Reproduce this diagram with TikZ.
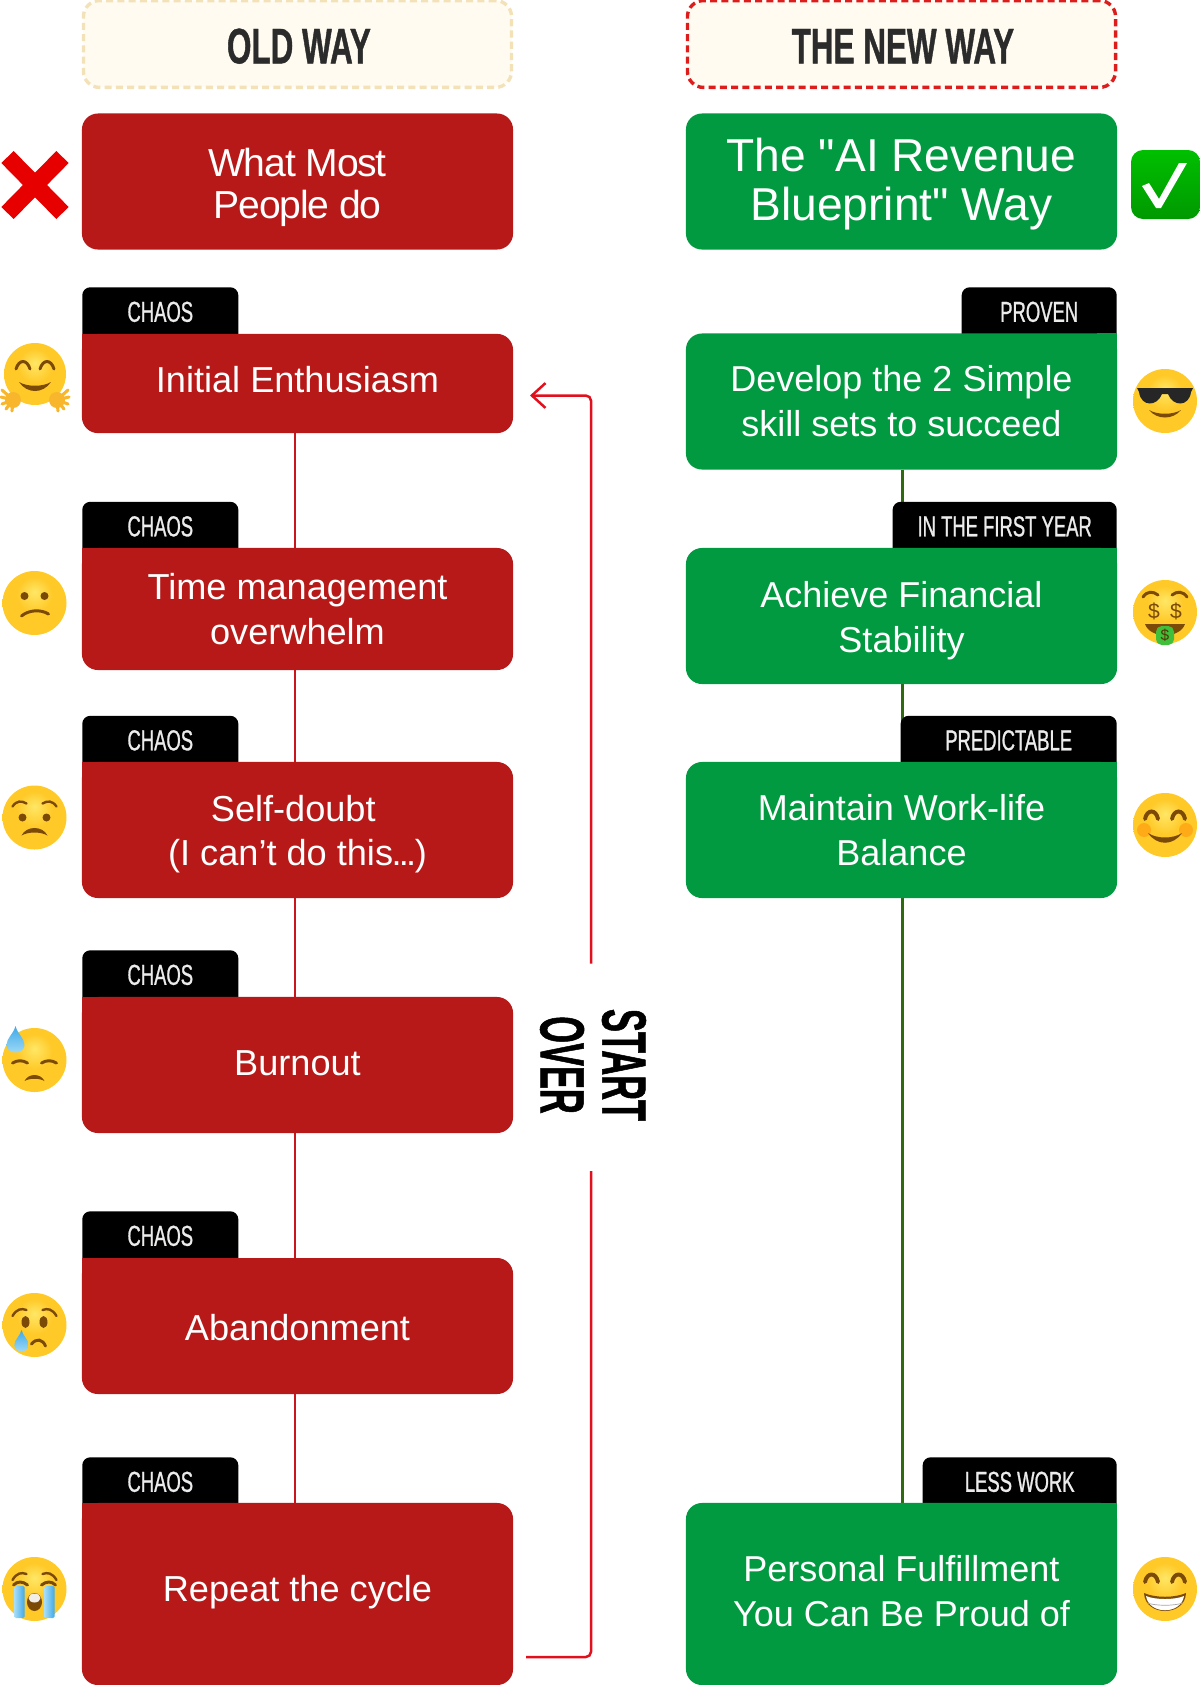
\documentclass[tikz,border=0pt]{standalone}
\usepackage{xcolor}
\usepackage{fontspec}
\setmainfont{Liberation Sans}
\newfontfamily\quotefont{Liberation Sans}
\newfontfamily\tightfont[LetterSpace=-3]{Liberation Sans}
\newfontfamily\tagfont[FakeStretch=0.64, FakeBold=0.9]{Liberation Sans}
\newfontfamily\headfont[FakeStretch=0.63, FakeBold=0.8]{Liberation Sans Bold}
\newfontfamily\overfont[FakeStretch=0.55, FakeBold=0.8]{Liberation Sans Bold}
\usetikzlibrary{arrows.meta, backgrounds}
\definecolor{oldred}{HTML}{B71918}
\definecolor{newgreen}{HTML}{029A40}
\definecolor{oldline}{HTML}{C9161D}
\definecolor{newline}{HTML}{2F6A12}
\definecolor{loopred}{HTML}{E2101D}
\definecolor{paper}{HTML}{FFFBF0}
\definecolor{palehem}{HTML}{F3E2B8}
\definecolor{redhem}{HTML}{DD1C1C}
\definecolor{headink}{HTML}{2B2B2B}
\definecolor{crossred}{HTML}{E60000}
\definecolor{faceglow}{HTML}{FFE766}
\definecolor{facemid}{HTML}{FFC928}
\definecolor{faceedge}{HTML}{F09A1E}
\definecolor{facebrown}{HTML}{7A4A06}
\definecolor{handorange}{HTML}{F8B62C}
\definecolor{tearblue}{HTML}{3FA9E8}
\definecolor{tearlight}{HTML}{A5DCF7}
\definecolor{billgreen}{HTML}{3FBF3A}
\pgfdeclareradialshading{emojiface}{\pgfpoint{0bp}{9bp}}{color(0bp)=(faceglow); color(14bp)=(facemid); color(30bp)=(facemid); color(37bp)=(faceedge); color(50bp)=(faceedge)}
\tikzset{
  faceline/.style={draw=facebrown, line width=2.1pt, line cap=round},
  mouthfill/.style={fill=facebrown},
  smiley/.pic={\path[shading=emojiface] (0,0) circle (32);},
  arceyes/.pic={\foreach \s in {-1,1} \draw[faceline, line width=2.8pt] (\s*20,-3) .. controls (\s*18,-13) and (\s*9,-13) .. (\s*7,-3);},
  browarcs/.pic={\foreach \s in {-1,1} \draw[faceline, line width=1.7pt] (\s*22,-9) .. controls (\s*18,-16) and (\s*13,-17) .. (\s*8,-15);},
  tear/.pic={\shade[top color=tearblue, bottom color=tearlight] (0,-15) .. controls (2,-7) and (9,-3) .. (9,4) .. controls (9,14) and (-9,14) .. (-9,4) .. controls (-9,-3) and (-2,-7) .. cycle;},
  hugface/.pic={
    \path[shading=emojiface] (0,-5) circle (31);
    \foreach \s in {-1,1} {
      \draw[faceline] (\s*19,-10) .. controls (\s*16,-20) and (\s*8,-20) .. (\s*5,-10);
      \foreach \fx/\fy in {33/11, 34/18, 33/25, 29/30, 23/32} \draw[handorange, line width=2.2pt, line cap=round] (\s*22,21) -- (\s*\fx,\fy);
      \fill[handorange] (\s*22,21) circle (8);
    }
    \fill[mouthfill] (-16,3) .. controls (-8,15) and (8,15) .. (16,3) .. controls (8,8) and (-8,8) .. cycle;
  },
  confusedface/.pic={
    \pic {smiley};
    \foreach \s in {-1,1} \fill[facebrown] (\s*10,-7) circle (4);
    \draw[faceline] (-13,13) .. controls (-6,7) and (6,6) .. (14,11);
  },
  worriedface/.pic={
    \pic {smiley};
    \foreach \s in {-1,1} {
      \draw[faceline, line width=1.7pt] (\s*22,-11) .. controls (\s*18,-17) and (\s*13,-17) .. (\s*8,-14);
      \fill[facebrown] (\s*12,0) circle (4);
    }
    \fill[mouthfill] (-13,18) .. controls (-8,8) and (8,8) .. (13,18) .. controls (6,14) and (-6,14) .. cycle;
  },
  sweatface/.pic={
    \pic {smiley};
    \foreach \s in {-1,1} \draw[faceline] (\s*22,3) .. controls (\s*17,0) and (\s*12,0) .. (\s*7,3);
    \fill[mouthfill] (-10,21) .. controls (-6,13) and (6,13) .. (10,21) .. controls (5,18) and (-5,18) .. cycle;
    \pic at (-19,-19) {tear};
  },
  cryface/.pic={
    \pic {smiley};
    \pic {browarcs};
    \foreach \s in {-1,1} \fill[facebrown] (\s*9,-3) ellipse (4 and 6);
    \draw[faceline] (-3,19) .. controls (2,13) and (8,14) .. (11,21);
    \pic[scale=.8] at (-13,17) {tear};
  },
  sobface/.pic={
    \pic {smiley};
    \pic {browarcs};
    \foreach \s in {-1,1} {
      \draw[faceline] (\s*21,-4) .. controls (\s*17,-8) and (\s*12,-8) .. (\s*7,-4);
      \shade[left color=tearlight, right color=tearblue, rounded corners=1pt] (\s*10,-3) rectangle (\s*20,29);
    }
    \fill[facebrown] (0,13) ellipse (7.5 and 9);
    \fill[white!90!facebrown] (0,9) ellipse (6 and 4.5);
  },
  coolface/.pic={
    \pic {smiley};
    \fill[black!85] (-28,-13) -- (28,-13) -- (26,-9) .. controls (24,6) and (8,6) .. (3,-7) -- (-3,-7) .. controls (-8,6) and (-24,6) .. (-26,-9) -- cycle;
    \fill[mouthfill] (-16,9) .. controls (-8,19) and (8,19) .. (16,9) .. controls (8,14) and (-8,14) .. cycle;
  },
  moneyface/.pic={
    \pic {smiley};
    \foreach \s in {-1,1} {
      \draw[faceline] (\s*22,-15) .. controls (\s*18,-21) and (\s*12,-21) .. (\s*7,-17);
      \node[facebrown, font=\fontsize{15}{15}\selectfont] at (\s*11,-1) {\$};
    }
    \fill[mouthfill] (-20,12) -- (20,12) .. controls (15,27) and (-15,27) .. (-20,12) -- cycle;
    \fill[billgreen, rounded corners=4pt] (-9,14) rectangle (9,33);
    \node[facebrown!70!black, font=\fontsize{11}{11}\selectfont] at (0,23) {\$};
  },
  happyface/.pic={
    \pic {smiley};
    \foreach \s in {-1,1} \fill[orange!75!facemid, opacity=.55] (\s*21,5) circle (7);
    \pic at (0,-3) {arceyes};
    \fill[mouthfill] (-17,8) .. controls (-8,21) and (8,21) .. (17,8) .. controls (8,14) and (-8,14) .. cycle;
  },
  grinface/.pic={
    \pic {smiley};
    \pic at (0,-4) {arceyes};
    \fill[mouthfill] (-21,4) .. controls (-10,9) and (10,9) .. (21,4) .. controls (20,28) and (-20,28) .. cycle;
    \fill[white] (-19,7) .. controls (-10,11) and (10,11) .. (19,7) .. controls (16,26) and (-16,26) .. cycle;
    \draw[black!35, line width=0.5pt] (-18,14) .. controls (-8,17) and (8,17) .. (18,14);
  },
}
\begin{document}
\begin{tikzpicture}[
  x=0.025cm, y=-0.025cm,
  hem/.style={fill=paper, rounded corners=0.4cm, minimum width=10.7cm, minimum height=2.17cm, inner sep=0pt, line width=2.4pt, dash pattern=on 5pt off 3pt, text=headink, text height=27.5pt, text depth=0pt, font=\headfont\fontsize{35.5}{35.5}\selectfont},
  stepbox/.style={rounded corners=0.4cm, minimum width=10.775cm, inner sep=0pt, text=white, align=center},
  oldbox/.style={stepbox, fill=oldred, font=\fontsize{25.7}{32}\selectfont},
  newbox/.style={stepbox, fill=newgreen, font=\fontsize{25.6}{32}\selectfont},
  tagbox/.style={fill=black, rounded corners=0.2cm, inner sep=0pt, text=white!92!black, text height=0.8625cm, text depth=0.8125cm, font=\tagfont\fontsize{20.5}{20.5}\selectfont},
  oldtag/.style={tagbox, anchor=north west, minimum width=3.9cm},
  newtag/.style={tagbox, anchor=north east},
  oldflow/.style={oldline, line width=0.07cm},
  newflow/.style={newline, line width=0.07cm},
  loopflow/.style={loopred, line width=0.0625cm, rounded corners=0.13cm},
]
  \path[use as bounding box] (0,0) rectangle (1200,1685);

  \node[hem, draw=palehem] (oldhead) at (297.5,44) {\hspace*{2pt}OLD WAY};
  \node[hem, draw=redhem] (newhead) at (901.5,44) {\hspace*{2pt}THE NEW WAY};

  % tags go first, the boxes lie on their lower part
  \node[oldtag] (tagone) at (82,287) {CHAOS};
  \node[oldtag] (tagtwo) at (82,501.5) {CHAOS};
  \node[oldtag] (tagthree) at (82,715.5) {CHAOS};
  \node[oldtag] (tagfour) at (82,950) {CHAOS};
  \node[oldtag] (tagfive) at (82,1211) {CHAOS};
  \node[oldtag] (tagsix) at (82,1457) {CHAOS};
  \node[newtag, minimum width=3.875cm] (tagproven) at (1117,287) {PROVEN};
  \node[newtag, minimum width=5.6cm] (tagyear) at (1117,501.5) {IN THE FIRST YEAR};
  \node[newtag, minimum width=5.4cm] (tagpredict) at (1117,715.5) {PREDICTABLE};
  \node[newtag, minimum width=4.85cm] (tagless) at (1117,1457) {LESS WORK};

  \node[oldbox, minimum height=3.4cm, text height=58pt, font=\tightfont\fontsize{27.8}{30}\selectfont] (most) at (297.5,181.5) {What Most\\People do};
  \node[oldbox, minimum height=2.48cm, text depth=0.22cm] (initial) at (297.5,383.5) {Initial Enthusiasm};
  \node[oldbox, minimum height=3.05cm] (overwhelm) at (297.5,609) {Time management\\overwhelm};
  \node[oldbox, minimum height=3.4cm, text height=56.5pt] (doubt) at (297.5,830) {Self-doubt\hspace*{6pt}\\(I can’t do this\kern-1pt.\kern-2pt.\kern-2pt.\kern-1pt)};
  \node[oldbox, minimum height=3.4cm, text depth=3pt] (burnout) at (297.5,1065) {Burnout};
  \node[oldbox, minimum height=3.4cm, text height=21.5pt] (abandon) at (297.5,1326) {Abandonment};
  \node[oldbox, minimum height=4.55cm, text depth=8.5pt] (again) at (297.5,1594) {Repeat the cycle};

  \node[newbox, minimum height=3.4cm, text height=62pt, font=\quotefont\fontsize{32.8}{35}\selectfont] (blueprint) at (901.5,181.5) {The "AI Revenue\\Blueprint" Way};
  \node[newbox, minimum height=3.4cm] (skills) at (901.5,401.5) {Develop the 2 Simple\\skill sets to succeed};
  \node[newbox, minimum height=3.4cm, text height=56.6pt] (stability) at (901.5,616) {Achieve Financial\\Stability};
  \node[newbox, minimum height=3.4cm] (balance) at (901.5,830) {Maintain Work-life\\Balance};
  \node[newbox, minimum height=4.55cm, text depth=3.7pt] (fulfil) at (901.5,1594) {Personal Fulfillment\\You Can Be Proud of};

  % square corner where a box meets its tag
  \foreach \b in {initial, overwhelm, doubt, burnout, abandon, again}
    \fill[oldred] (\b.north west) rectangle ++(20,20);
  \foreach \b in {skills, stability, balance, fulfil}
    \fill[newgreen] (\b.north east) rectangle ++(-20,20);

  \begin{scope}[on background layer]
    \foreach \a/\b in {initial/overwhelm, overwhelm/doubt, doubt/burnout, burnout/abandon, abandon/again}
      \draw[oldflow] ([xshift=-0.0625cm]\a.south) -- ([xshift=-0.0625cm]\b.north);
    \foreach \a/\b in {skills/stability, stability/balance, balance/fulfil}
      \draw[newflow] ([xshift=0.025cm]\a.south) -- ([xshift=0.025cm]\b.north);
  \end{scope}

  \node[rotate=-90, align=center, inner sep=0pt, font=\overfont\fontsize{44.5}{44}\selectfont] (startover) at (593,1065) {START\\OVER};

  \coordinate (loopin) at (526,1657);
  \coordinate (looplow) at (591,1171);
  \coordinate (loophigh) at (591,963.5);
  \coordinate (loopout) at (530,395.5);
  \draw[loopflow] (loopin) -| (looplow);
  \draw[loopflow, -{Straight Barb[length=0.34cm, width=0.62cm]}] (loophigh) |- (loopout);

  % the marks beside the boxes
  \draw[crossred, line width=0.43cm] (7.5,157) -- (62.5,213);
  \draw[crossred, line width=0.43cm] (62.5,157) -- (7.5,213);
  \shade[top color=green!75!black, bottom color=green!60!black, rounded corners=0.3cm] (1131,150) rectangle (1200,219);
  \fill[white] (1142,186) -- (1149,183) -- (1159,199) -- (1179,163) -- (1187,163) -- (1161,208) -- (1156,208) -- cycle;
  \pic (hug) at (35,379) {hugface};
  \pic (confused) at (34.5,603) {confusedface};
  \pic (worried) at (34.5,817.5) {worriedface};
  \pic (sweat) at (34.5,1060) {sweatface};
  \pic (cry) at (34.5,1325) {cryface};
  \pic (sob) at (34.5,1589) {sobface};
  \pic (cool) at (1165,401) {coolface};
  \pic (money) at (1165,612) {moneyface};
  \pic (happy) at (1165,825) {happyface};
  \pic (grin) at (1165,1589) {grinface};
\end{tikzpicture}
\end{document}
